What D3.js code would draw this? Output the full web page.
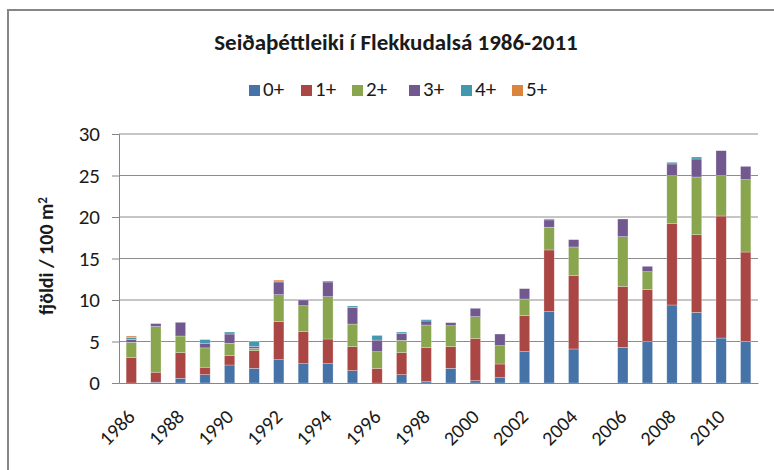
<!DOCTYPE html>
<html>
<head>
<meta charset="utf-8">
<script src="https://cdn.jsdelivr.net/npm/d3@7"></script>
<style>
  body { margin: 0; background: #fff; }
  svg { display: block; }
</style>
</head>
<body>
<svg id="chart" width="774" height="470"></svg>
<script>
const fontFamily = `Calibri, Carlito, Lato, "Open Sans", sans-serif`;

const years = d3.range(1986, 2012).map(String);
const ageGroups = ["0+", "1+", "2+", "3+", "4+", "5+"];
const colors = ["#4572A7", "#AA4643", "#89A54E", "#71588F", "#4198AF", "#DB843D"];

const age0 = [0, 0.1, 0.56, 1.0, 2.17, 1.77, 2.81, 2.33, 2.33, 1.49, 0, 1.0, 0.16, 1.77, 0.28, 0.64, 3.78, 8.6, 4.1, 0, 4.3, 4.98, 9.4, 8.51, 5.42, 5.02];
const age1 = [3.05, 1.2, 3.1, 0.9, 1.12, 2.13, 4.62, 3.85, 2.97, 2.89, 1.77, 2.66, 4.1, 2.61, 5.1, 1.65, 4.37, 7.43, 8.83, 0, 7.35, 6.3, 9.84, 9.36, 14.7, 10.76];
const age2 = [1.85, 5.5, 2.0, 2.33, 1.49, 0.28, 3.21, 3.13, 5.1, 2.72, 2.0, 1.48, 2.73, 2.52, 2.61, 2.21, 1.97, 2.74, 3.46, 0, 5.98, 2.13, 5.74, 6.95, 4.86, 8.72];
const age3 = [0.36, 0.36, 1.65, 0.56, 1.12, 0.24, 1.53, 0.69, 1.77, 2.02, 1.4, 0.8, 0.48, 0.37, 1.01, 1.4, 1.25, 0.88, 0.88, 0, 2.13, 0.65, 1.41, 2.17, 3.01, 1.6];
const age4 = [0.24, 0, 0, 0.44, 0.24, 0.56, 0.12, 0, 0.12, 0.16, 0.56, 0.2, 0.16, 0, 0, 0, 0, 0.12, 0, 0, 0, 0, 0.2, 0.24, 0, 0];
const age5 = [0.16, 0, 0, 0, 0, 0, 0.12, 0, 0, 0, 0, 0, 0, 0, 0, 0, 0, 0, 0, 0, 0, 0, 0, 0, 0, 0];

const yTicks = [0, 5, 10, 15, 20, 25, 30];
const xLabelYears = years.filter((d, i) => i % 2 === 0);

const series = [age0, age1, age2, age3, age4, age5];
const table = years.map((year, i) => {
  const row = { year };
  ageGroups.forEach((g, j) => (row[g] = series[j][i]));
  return row;
});

const margin = { left: 119, right: 16, top: 134, bottom: 87 };
const width = 774;
const height = 470;

const svg = d3.select("#chart").attr("font-family", fontFamily);

// chart frame (only top and left edges are visible in the crop)
svg.append("path")
  .attr("d", `M8,470 L8,10 L774,10`)
  .attr("fill", "none")
  .attr("stroke", "#868686")
  .attr("stroke-width", 2);

const x = d3.scaleBand()
  .domain(years)
  .range([margin.left, width - margin.right])
  .paddingInner(0.58)
  .paddingOuter(0.29);

const y = d3.scaleLinear()
  .domain([0, 30])
  .range([height - margin.bottom, margin.top]);

// gridlines
svg.append("g")
  .attr("id", "grid")
  .selectAll("line")
  .data(yTicks.filter((d) => d > 0))
  .enter()
  .append("line")
  .attr("x1", margin.left)
  .attr("x2", width - margin.right)
  .attr("y1", (d) => y(d))
  .attr("y2", (d) => y(d))
  .attr("stroke", "#8c8c8c")
  .attr("stroke-width", 1);

// stacked bars
const stacked = d3.stack().keys(ageGroups)(table);

svg.append("g")
  .attr("id", "bars")
  .selectAll("g")
  .data(stacked)
  .enter()
  .append("g")
  .attr("fill", (d, i) => colors[i])
  .selectAll("rect")
  .data((d) => d.filter((s) => s[1] - s[0] > 0))
  .enter()
  .append("rect")
  .attr("x", (d) => x(d.data.year))
  .attr("width", x.bandwidth())
  .attr("y", (d) => y(d[1]))
  .attr("height", (d) => y(d[0]) - y(d[1]))
  .attr("stroke", "#ffffff")
  .attr("stroke-opacity", 0.45)
  .attr("stroke-width", 0.6);

// y axis
const yAxis = svg.append("g")
  .attr("transform", `translate(${margin.left},0)`)
  .call(d3.axisLeft(y).tickValues(yTicks).tickSize(7).tickPadding(12));
yAxis.select(".domain").attr("stroke", "#868686");
yAxis.selectAll(".tick line").attr("stroke", "#868686");
yAxis.selectAll(".tick text")
  .attr("font-size", 21)
  .attr("fill", "#1a1a1a")
  .attr("font-family", fontFamily);

// x axis
const xAxis = svg.append("g")
  .attr("transform", `translate(0,${height - margin.bottom})`)
  .call(d3.axisBottom(x).tickValues(xLabelYears).tickSize(0).tickSizeOuter(0));
xAxis.select(".domain").attr("stroke", "#868686");
xAxis.selectAll(".tick text")
  .attr("font-size", 20)
  .attr("fill", "#1a1a1a")
  .attr("font-family", fontFamily)
  .attr("text-anchor", "end")
  .attr("y", 0)
  .attr("dy", 0)
  .attr("transform", "translate(5,35) rotate(-45)");

// y axis title
svg.append("text")
  .attr("transform", `translate(53,256) rotate(-90)`)
  .attr("text-anchor", "middle")
  .attr("font-size", 20)
  .attr("font-weight", "bold")
  .attr("fill", "#1a1a1a")
  .text("fjöldi / 100 m")
  .append("tspan")
  .attr("dy", "-0.5em")
  .attr("font-size", 13)
  .text("2");

// title
svg.append("text")
  .attr("x", 396)
  .attr("y", 50)
  .attr("text-anchor", "middle")
  .attr("font-size", 23)
  .attr("font-weight", "bold")
  .attr("fill", "#1a1a1a")
  .text("Seiðaþéttleiki í Flekkudalsá 1986-2011");

// legend
const legendX = [249, 301, 352, 409, 461, 512];
const legend = svg.append("g")
  .attr("id", "legend")
  .selectAll("g")
  .data(ageGroups)
  .enter()
  .append("g")
  .attr("transform", (d, i) => `translate(${legendX[i]},85)`);

legend.append("rect")
  .attr("width", 11)
  .attr("height", 11)
  .attr("fill", (d, i) => colors[i]);

legend.append("text")
  .attr("x", 14)
  .attr("y", 11)
  .attr("font-size", 21)
  .attr("fill", "#1a1a1a")
  .text((d) => d);
</script>
</body>
</html>
